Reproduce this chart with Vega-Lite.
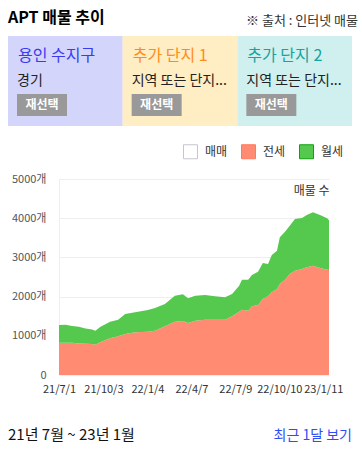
{
  "$schema": "https://vega.github.io/schema/vega-lite/v6.json",
  "padding": {"left": 8, "top": 0, "right": 0, "bottom": 0},
  "spacing": 18,
  "resolve": {"legend": {"color": "independent"}},
  "config": {"font": "Noto Sans CJK KR", "view": {"stroke": null}},
  "vconcat": [
    {
      "width": 270,
      "height": 126,
      "data": {"values": [
        {"i": 0, "j": 1, "name": "용인 수지구", "sub": "경기"},
        {"i": 1, "j": 2, "name": "추가 단지 1", "sub": "지역 또는 단지..."},
        {"i": 2, "j": 3, "name": "추가 단지 2", "sub": "지역 또는 단지..."}
      ]},
      "resolve": {"scale": {"color": "independent"}},
      "layer": [
        {
          "mark": {"type": "rect"},
          "encoding": {
            "x": {"field": "i", "type": "quantitative", "scale": {"domain": [0, 3], "range": [-51, 293]}, "axis": null},
            "x2": {"field": "j"},
            "y": {"datum": 1, "type": "quantitative", "scale": {"domain": [0, 3.5], "reverse": true}, "axis": null},
            "y2": {"datum": 3.5},
            "color": {"field": "name", "type": "nominal", "scale": {"domain": ["용인 수지구", "추가 단지 1", "추가 단지 2"], "range": ["#d4d5fa", "#ffedc3", "#cff0ee"]}, "legend": null}
          }
        },
        {
          "mark": {"type": "text", "align": "left", "baseline": "alphabetic", "dx": 10, "fontSize": 16},
          "encoding": {
            "x": {"field": "i", "type": "quantitative"},
            "y": {"datum": 1.7, "type": "quantitative"},
            "text": {"field": "name"},
            "color": {"field": "name", "type": "nominal", "scale": {"domain": ["용인 수지구", "추가 단지 1", "추가 단지 2"], "range": ["#3a3af2", "#ff8c1a", "#17a3a0"]}, "legend": null}
          }
        },
        {
          "mark": {"type": "text", "align": "left", "baseline": "alphabetic", "dx": 9, "fontSize": 14, "color": "#222222"},
          "encoding": {
            "x": {"field": "i", "type": "quantitative"},
            "y": {"datum": 2.37, "type": "quantitative"},
            "text": {"field": "sub"}
          }
        },
        {
          "mark": {"type": "rect", "color": "#999999", "xOffset": 9, "x2Offset": 59},
          "encoding": {
            "x": {"field": "i", "type": "quantitative"},
            "x2": {"field": "i"},
            "y": {"datum": 2.61, "type": "quantitative"},
            "y2": {"datum": 3.22}
          }
        },
        {
          "mark": {"type": "text", "align": "center", "baseline": "middle", "dx": 34, "fontSize": 12, "fontWeight": "bold", "color": "#ffffff"},
          "encoding": {
            "x": {"field": "i", "type": "quantitative"},
            "y": {"datum": 2.92, "type": "quantitative"},
            "text": {"value": "재선택"}
          }
        },
        {
          "data": {"values": [{"t": "APT 매물 추이", "s": "※ 출처 : 인터넷 매물"}]},
          "mark": {"type": "text", "align": "left", "baseline": "alphabetic", "fontSize": 16, "fontWeight": "bold", "color": "#000000"},
          "encoding": {
            "x": {"datum": 0, "type": "quantitative"},
            "y": {"datum": 0.63, "type": "quantitative"},
            "text": {"field": "t"}
          }
        },
        {
          "data": {"values": [{"t": "APT 매물 추이", "s": "※ 출처 : 인터넷 매물"}]},
          "mark": {"type": "text", "align": "right", "baseline": "alphabetic", "dx": 6, "fontSize": 13, "color": "#333333"},
          "encoding": {
            "x": {"datum": 3, "type": "quantitative"},
            "y": {"datum": 0.7, "type": "quantitative"},
            "text": {"field": "s"}
          }
        }
      ]
    },
    {
      "width": 270,
      "height": 196,
      "data": {"values": [
        {"d": "2021-07-01", "전세": 824, "월세": 451},
        {"d": "2021-07-15", "전세": 824, "월세": 456},
        {"d": "2021-07-29", "전세": 820, "월세": 430},
        {"d": "2021-08-12", "전세": 805, "월세": 425},
        {"d": "2021-08-26", "전세": 795, "월세": 390},
        {"d": "2021-09-09", "전세": 790, "월세": 370},
        {"d": "2021-09-16", "전세": 773, "월세": 357},
        {"d": "2021-09-26", "전세": 834, "월세": 390},
        {"d": "2021-10-17", "전세": 936, "월세": 424},
        {"d": "2021-11-03", "전세": 987, "월세": 424},
        {"d": "2021-11-18", "전세": 1046, "월세": 510},
        {"d": "2021-12-09", "전세": 1089, "월세": 511},
        {"d": "2022-01-05", "전세": 1105, "월세": 553},
        {"d": "2022-01-20", "전세": 1131, "월세": 578},
        {"d": "2022-02-10", "전세": 1242, "월세": 569},
        {"d": "2022-03-03", "전세": 1360, "월세": 663},
        {"d": "2022-03-20", "전세": 1378, "월세": 680},
        {"d": "2022-03-31", "전세": 1326, "월세": 630},
        {"d": "2022-04-15", "전세": 1386, "월세": 637},
        {"d": "2022-05-06", "전세": 1411, "월세": 629},
        {"d": "2022-05-27", "전세": 1411, "월세": 595},
        {"d": "2022-06-17", "전세": 1411, "월세": 570},
        {"d": "2022-07-02", "전세": 1496, "월세": 570},
        {"d": "2022-07-17", "전세": 1615, "월세": 664},
        {"d": "2022-07-23", "전세": 1666, "월세": 766},
        {"d": "2022-08-05", "전세": 1641, "월세": 791},
        {"d": "2022-08-13", "전세": 1752, "월세": 799},
        {"d": "2022-08-26", "전세": 1786, "월세": 849},
        {"d": "2022-09-05", "전세": 1939, "월세": 918},
        {"d": "2022-09-16", "전세": 2007, "월세": 825},
        {"d": "2022-09-24", "전세": 2110, "월세": 951},
        {"d": "2022-10-05", "전세": 2194, "월세": 977},
        {"d": "2022-10-11", "전세": 2321, "월세": 1192},
        {"d": "2022-10-22", "전세": 2432, "월세": 1224},
        {"d": "2022-11-01", "전세": 2577, "월세": 1232},
        {"d": "2022-11-12", "전세": 2661, "월세": 1319},
        {"d": "2022-11-27", "전세": 2704, "월세": 1301},
        {"d": "2022-12-07", "전세": 2747, "월세": 1335},
        {"d": "2022-12-20", "전세": 2789, "월세": 1361},
        {"d": "2023-01-04", "전세": 2730, "월세": 1352},
        {"d": "2023-01-19", "전세": 2686, "월세": 1311},
        {"d": "2023-01-23", "전세": 2680, "월세": 1270}
      ]},
      "transform": [
        {"fold": ["전세", "월세"], "as": ["type", "count"]},
        {"calculate": "datum.type === '전세' ? 0 : 1", "as": "ord"}
      ],
      "mark": {"type": "area", "interpolate": "linear"},
      "encoding": {
        "x": {
          "field": "d", "type": "temporal",
          "scale": {"type": "utc", "domain": [{"year": 2021, "month": 7, "date": 1, "utc": true}, {"year": 2023, "month": 1, "date": 23, "utc": true}]},
          "axis": {
            "values": [
              {"year": 2021, "month": 7, "date": 1, "utc": true},
              {"year": 2021, "month": 10, "date": 3, "utc": true},
              {"year": 2022, "month": 1, "date": 4, "utc": true},
              {"year": 2022, "month": 4, "date": 7, "utc": true},
              {"year": 2022, "month": 7, "date": 9, "utc": true},
              {"year": 2022, "month": 10, "date": 10, "utc": true},
              {"year": 2023, "month": 1, "date": 11, "utc": true}
            ],
            "format": "%y/%-m/%-d",
            "grid": false, "ticks": false, "domain": false,
            "labelFontSize": 11, "labelColor": "#333333", "labelPadding": 8,
            "labelFlush": false, "labelOverlap": false, "title": null
          }
        },
        "y": {
          "field": "count", "type": "quantitative", "stack": "zero",
          "scale": {"domain": [0, 5000]},
          "axis": {
            "values": [0, 1000, 2000, 3000, 4000, 5000],
            "labelExpr": "datum.value === 0 ? '0' : datum.value + '개'",
            "grid": true, "gridColor": "#eeeeee", "domainColor": "#eeeeee", "ticks": false,
            "labelFontSize": 11, "labelColor": "#555555", "labelPadding": 13,
            "title": "매물 수", "titleAngle": 0, "titleX": 270, "titleY": 15,
            "titleAlign": "right", "titleBaseline": "alphabetic",
            "titleFontSize": 12, "titleFontWeight": "normal", "titleColor": "#333333"
          }
        },
        "color": {
          "field": "type", "type": "nominal",
          "scale": {"domain": ["매매", "전세", "월세"], "range": ["#ffffff", "#ff8b73", "#55c94d"]},
          "legend": {
            "orient": "none", "legendX": 124, "legendY": -35, "direction": "horizontal",
            "title": null, "symbolType": "square", "symbolSize": 196, "symbolStrokeWidth": 1,
            "symbolOpacity": 1, "labelFontSize": 12, "labelColor": "#333333",
            "labelOffset": 7, "columnPadding": 11, "padding": 0,
            "encode": {"symbols": {"update": {
              "fill": {"signal": "datum.value === '전세' ? '#ff6347' : datum.value === '월세' ? '#1db31d' : '#ffffff'"},
              "stroke": {"signal": "datum.value === '전세' ? '#ff7a5c' : datum.value === '월세' ? '#12a012' : '#c5c7ce'"},
              "fillOpacity": {"value": 1}
            }}}
          }
        },
        "order": {"field": "ord", "type": "quantitative"}
      }
    },
    {
      "width": 270,
      "height": 38,
      "data": {"values": [{"l": "21년 7월 ~ 23년 1월", "r": "최근 1달 보기"}]},
      "layer": [
        {
          "mark": {"type": "text", "align": "left", "baseline": "alphabetic", "fontSize": 15, "color": "#111111"},
          "encoding": {
            "x": {"datum": 0, "type": "quantitative", "scale": {"domain": [0, 1], "range": [-51, 293]}, "axis": null},
            "y": {"datum": 0.74, "type": "quantitative", "scale": {"domain": [0, 1], "reverse": true}, "axis": null},
            "text": {"field": "l"}
          }
        },
        {
          "mark": {"type": "text", "align": "right", "baseline": "alphabetic", "fontSize": 14, "color": "#2d4ef5"},
          "encoding": {
            "x": {"datum": 1, "type": "quantitative"},
            "y": {"datum": 0.74, "type": "quantitative"},
            "text": {"field": "r"}
          }
        }
      ]
    }
  ]
}
